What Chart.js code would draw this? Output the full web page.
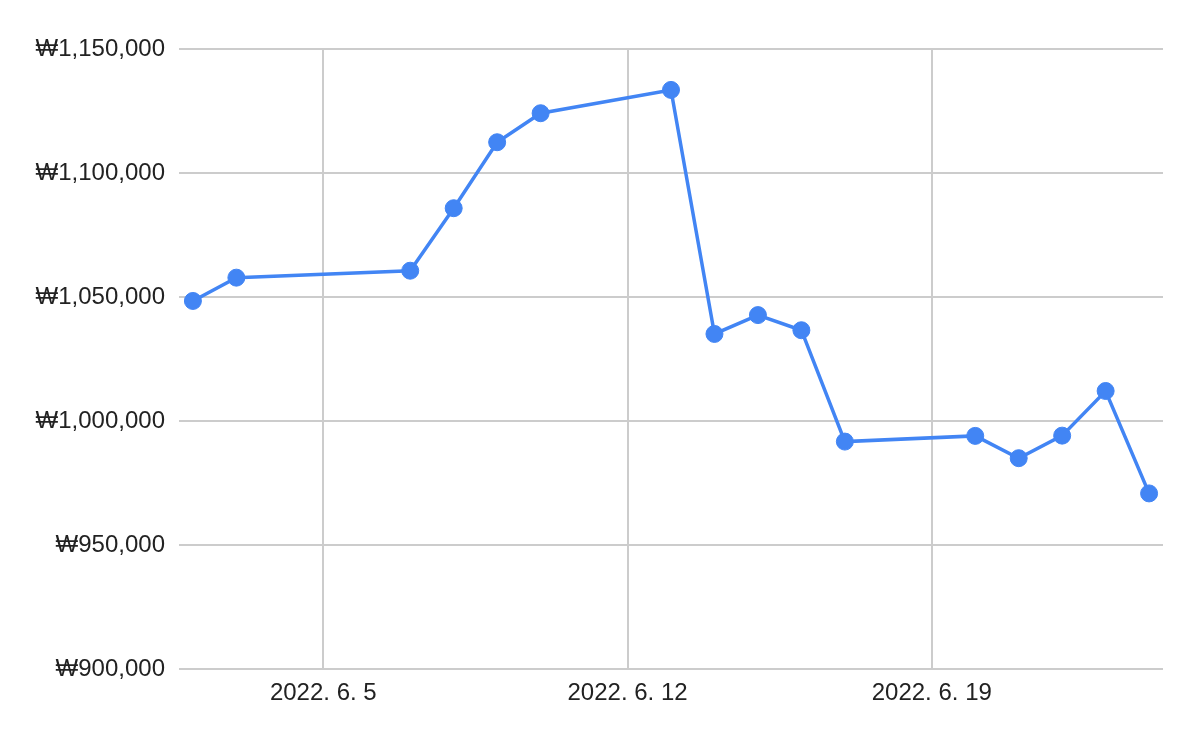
<!DOCTYPE html>
<html>
<head>
<meta charset="utf-8">
<script src="https://cdn.jsdelivr.net/npm/chart.js@4"></script>
<style>
  html, body { margin: 0; padding: 0; background: #fff; }
</style>
</head>
<body>
<canvas id="balanceChart" width="1200" height="742"></canvas>
<script>
// Data (day of June 2022 -> balance in KRW)
const days = [2, 3, 7, 8, 9, 10, 13, 14, 15, 16, 17, 20, 21, 22, 23, 24];
const balances = [1048400, 1057800, 1060600, 1085800, 1112400, 1124100, 1133500, 1035100,
                  1042700, 1036600, 991700, 994000, 985000, 994100, 1012100, 970800];
const xTickDays = [5, 12, 19];
const xTickPrefix = '2022. 6. ';
const yMin = 900000;
const yMax = 1150000;
const yStep = 50000;

const points = days.map((d, i) => ({ x: d, y: balances[i] }));

const tickFont = { family: "'Liberation Sans', Arial, sans-serif", size: 24 };

const ctx = document.getElementById('balanceChart').getContext('2d');
const balanceChart = new Chart(ctx, {
    type: 'line',
    data: {
        datasets: [{
            data: points,
            borderColor: '#4285f4',
            backgroundColor: '#4285f4',
            borderWidth: 3.5,
            pointRadius: 8.5,
            pointBorderWidth: 1,
            pointHoverRadius: 8.5,
            tension: 0
        }]
    },
    options: {
        responsive: false,
        animation: false,
        layout: { padding: { left: 0, right: 37, top: 49, bottom: 0 } },
        plugins: {
            legend: { display: false },
            tooltip: { enabled: false }
        },
        scales: {
            x: {
                type: 'linear',
                min: 1.68,
                max: 24.32,
                afterBuildTicks: function(scale) {
                    scale.ticks = xTickDays.map(v => ({ value: v }));
                },
                afterFit: function(scale) {
                    scale.height = 73;
                },
                grid: { color: '#cccccc', lineWidth: 2, drawTicks: false },
                border: { display: false },
                ticks: {
                    color: '#222222',
                    font: tickFont,
                    padding: 10,
                    maxRotation: 0,
                    callback: function(value) {
                        return xTickPrefix + value;
                    }
                }
            },
            y: {
                min: yMin,
                max: yMax,
                afterFit: function(scale) {
                    scale.width = 179;
                },
                grid: { color: '#cccccc', lineWidth: 2, drawTicks: false },
                border: { display: false },
                ticks: {
                    stepSize: yStep,
                    color: '#222222',
                    font: tickFont,
                    padding: 14,
                    callback: function(value) {
                        return '\u20a9' + value.toLocaleString('en-US');
                    }
                }
            }
        }
    }
});
</script>
</body>
</html>
